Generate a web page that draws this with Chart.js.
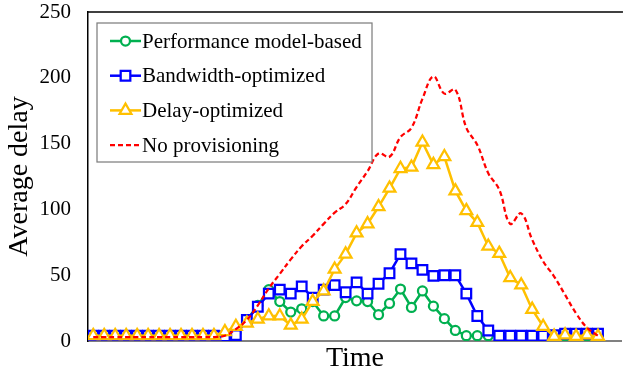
<!DOCTYPE html>
<html>
<head>
<meta charset="utf-8">
<script src="https://cdn.jsdelivr.net/npm/chart.js@4.4.0/dist/chart.umd.min.js"></script>
<style>
  html, body { margin: 0; padding: 0; background: #fff; }
  #wrap { width: 631px; height: 375px; }
</style>
</head>
<body>
<div id="wrap"><canvas id="delayChart" width="631" height="375"></canvas></div>
<script>
// time steps along the x axis (no tick labels shown)
const timeSteps = [0, 1, 2, 3, 4, 5, 6, 7, 8, 9, 10, 11, 12, 13, 14, 15, 16, 17, 18, 19, 20, 21, 22, 23,
  24, 25, 26, 27, 28, 29, 30, 31, 32, 33, 34, 35, 36, 37, 38, 39, 40, 41, 42, 43, 44, 45, 46];

const perfModel = [4, 4, 4, 4, 4, 4, 4, 4, 4, 4, 4, 4,
  4, 6, 16, 27, 39, 30, 22, 24.5, 30, 19, 19, 33, 30.5, 30, 20, 28.5, 39.5, 25.5, 38, 26.5, 17, 8, 4,
  4, 4, 4, 4, 4, 4, 4, 4, 4, 4, 4, 4];

const bandwidthOpt = [4, 4, 4, 4, 4, 4, 4, 4, 4, 4, 4, 4,
  3.5, 4.5, 16, 26, 36, 39, 36, 41.5, 33, 39, 42.5, 37, 44.5, 36, 43.5, 51.5, 66, 59, 54, 49.5, 50, 50, 36,
  19, 8, 4, 4, 4, 4, 4, 4.5, 5.5, 5.5, 5.5, 5.5];

const delayOpt = [4, 4, 4, 4, 4, 4, 4, 4, 4, 4, 4, 4,
  7, 11, 13.5, 16.5, 19, 19, 12, 16.5, 30, 38, 54.5, 66, 82, 89, 102, 116, 131, 132, 151, 134, 140, 114, 99,
  90, 72, 66.5, 48, 42.5, 24, 11, 3.5, 4.5, 3.5, 4.5, 3.5];

const noProvisioning = [3, 3, 3, 3, 3, 3, 3, 3, 3, 3, 3, 3,
  4, 9, 16, 27, 40, 51, 62, 72, 80, 89, 97.5, 104, 117, 129, 142.5, 140, 155, 162, 184, 201, 188, 191, 162,
  149, 127.5, 115, 89, 97, 77, 60.5, 49, 35, 21, 10, 4];

const seriesNames = ['Performance model-based', 'Bandwidth-optimized', 'Delay-optimized', 'No provisioning'];
const yTicks = [0, 50, 100, 150, 200, 250];

const serif = "'Liberation Serif', 'Times New Roman', serif";

// legend box drawn inside the plot, Excel style (line sample with marker)
const boxLegend = {
  id: 'boxLegend',
  afterDatasetsDraw(chart) {
    const ctx = chart.ctx;
    const area = chart.chartArea;
    const x0 = area.left + 9, y0 = area.top + 11;
    ctx.save();
    ctx.fillStyle = '#fff';
    ctx.fillRect(x0, y0, 275, 139);
    ctx.strokeStyle = '#7f7f7f';
    ctx.lineWidth = 1.25;
    ctx.strokeRect(x0, y0, 275, 139);
    chart.data.datasets.forEach((ds, i) => {
      const cy = y0 + 18 + i * 34.7;
      ctx.setLineDash(ds.borderDash || []);
      ctx.strokeStyle = ds.borderColor;
      ctx.lineWidth = ds.borderWidth;
      ctx.beginPath();
      ctx.moveTo(x0 + 13, cy);
      ctx.lineTo(x0 + 44, cy);
      ctx.stroke();
      ctx.setLineDash([]);
      if (ds.pointRadius > 0) {
        ctx.fillStyle = '#fff';
        ctx.lineWidth = ds.pointBorderWidth;
        Chart.helpers.drawPoint(ctx, {
          pointStyle: ds.pointStyle, radius: ds.pointRadius,
          borderWidth: ds.pointBorderWidth, rotation: 0
        }, x0 + 28.5, cy);
      }
      ctx.fillStyle = '#000';
      ctx.font = '21px ' + serif;
      ctx.textBaseline = 'middle';
      ctx.textAlign = 'left';
      ctx.fillText(ds.label, x0 + 45, cy + 1);
    });
    ctx.restore();
  }
};

// top border of the plot area
const plotFrame = {
  id: 'plotFrame',
  afterDraw(chart) {
    const {ctx, chartArea} = chart;
    ctx.save();
    ctx.strokeStyle = '#000';
    ctx.lineWidth = 1.5;
    ctx.beginPath();
    ctx.moveTo(chartArea.left, chartArea.top);
    ctx.lineTo(chartArea.right + 1, chartArea.top);
    ctx.stroke();
    ctx.restore();
  }
};

function markerSeries(label, data, color, style, radius, order) {
  return {
    label: label,
    data: data,
    borderColor: color,
    borderWidth: 2.5,
    pointStyle: style,
    pointRadius: radius,
    pointBorderWidth: 2.25,
    pointBorderColor: color,
    pointBackgroundColor: '#fff',
    tension: 0,
    order: order
  };
}

const datasets = [
  markerSeries(seriesNames[0], perfModel, '#00b050', 'circle', 4.5, 4),
  markerSeries(seriesNames[1], bandwidthOpt, '#0000ff', 'rect', 6.8, 3),
  markerSeries(seriesNames[2], delayOpt, '#ffc000', 'triangle', 6.8, 2),
  {
    label: seriesNames[3],
    data: noProvisioning,
    borderColor: '#ff0000',
    borderWidth: 2.25,
    borderDash: [5, 3],
    pointRadius: 0,
    tension: 0.4,
    order: 1
  }
];

new Chart(document.getElementById('delayChart'), {
  type: 'line',
  data: { labels: timeSteps, datasets: datasets },
  options: {
    responsive: false,
    animation: false,
    devicePixelRatio: 1,
    layout: { padding: { top: 12, right: 0, bottom: 0, left: 0 } },
    plugins: {
      legend: { display: false },
      tooltip: { enabled: false }
    },
    scales: {
      x: {
        type: 'linear',
        min: -0.475,
        max: 48.18,
        grid: { display: false, drawTicks: false },
        ticks: { display: false },
        border: { color: '#808080', width: 2 },
        title: {
          display: true, text: 'Time', color: '#000',
          font: { family: serif, size: 28, lineHeight: 1.2 },
          padding: { top: 0, bottom: 0 }
        },
        afterFit(scale) { scale.height = 34; }
      },
      y: {
        min: 0,
        max: 250,
        grid: { display: false, drawTicks: false },
        border: { color: '#000', width: 1.5 },
        ticks: { color: '#000', padding: 17, font: { family: serif, size: 21 } },
        afterBuildTicks(scale) { scale.ticks = yTicks.map(v => ({ value: v })); },
        title: {
          display: true, text: 'Average delay', color: '#000',
          font: { family: serif, size: 28, lineHeight: 1.2 },
          padding: { top: 3, bottom: 0 }
        },
        afterFit(scale) {
          scale.width = 88;
          scale.paddingTop = 12;
          scale.paddingBottom = 12;
        }
      }
    }
  },
  plugins: [boxLegend, plotFrame]
});
</script>
</body>
</html>
